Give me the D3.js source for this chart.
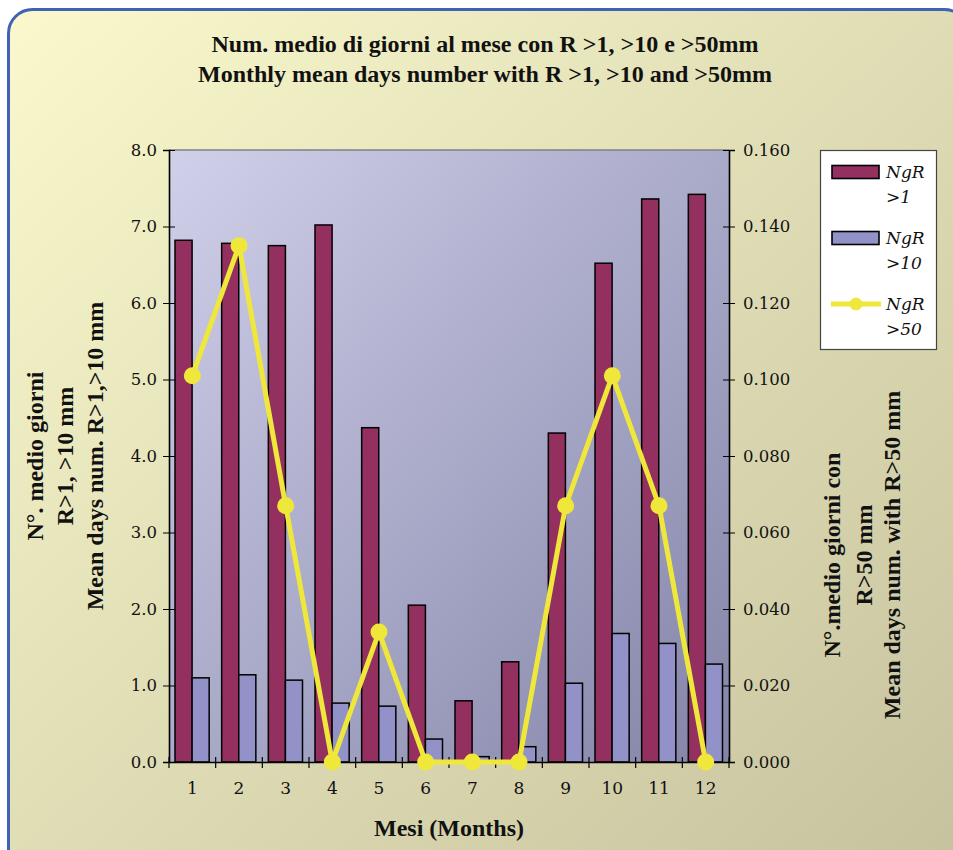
<!DOCTYPE html>
<html><head><meta charset="utf-8">
<script src="https://cdn.jsdelivr.net/npm/d3@7"></script>
<style>body{margin:0;background:#fff}svg{display:block}</style>
</head><body>
<svg id="c" width="953" height="850"></svg>
<script>
const months = [1,2,3,4,5,6,7,8,9,10,11,12];
const ngr1  = [6.82,6.78,6.75,7.02,4.37,2.05,0.80,1.31,4.30,6.52,7.36,7.42];
const ngr10 = [1.10,1.14,1.07,0.77,0.73,0.30,0.07,0.20,1.03,1.68,1.55,1.28];
const ngr50 = [0.101,0.135,0.067,0,0.034,0,0,0,0.067,0.101,0.067,0];
const leftTicks = [0,1,2,3,4,5,6,7,8];
const rightTicks = [0,0.02,0.04,0.06,0.08,0.10,0.12,0.14,0.16];
const seriesNames = ["NgR >1","NgR >10","NgR >50"];
const titleLines = ["Num. medio di giorni al mese con R >1, >10 e >50mm","Monthly mean days number with R >1, >10 and >50mm"];
const leftTitle = ["N°. medio giorni","R>1, >10 mm","Mean days num. R>1,>10 mm"];
const rightTitle = ["N°.medio giorni con","R>50 mm","Mean days num. with R>50 mm"];
const xTitle = "Mesi (Months)";

const svg = d3.select("#c");
const defs = svg.append("defs");
const pg = defs.append("linearGradient").attr("id","panelG").attr("x1","0").attr("y1","0").attr("x2","1").attr("y2","1");
pg.append("stop").attr("offset","0").attr("stop-color","#faf8cc");
pg.append("stop").attr("offset","1").attr("stop-color","#c4c19d");
const ag = defs.append("linearGradient").attr("id","plotG").attr("x1","0").attr("y1","0").attr("x2","1").attr("y2","1");
ag.append("stop").attr("offset","0").attr("stop-color","#d0d0ea");
ag.append("stop").attr("offset","1").attr("stop-color","#8484a8");

svg.append("rect").attr("x",8.5).attr("y",9.5).attr("width",960).attr("height",880).attr("rx",24)
  .attr("fill","url(#panelG)").attr("stroke","#3f62b5").attr("stroke-width",3);

const L=169, R=729, T=150, B=762;
const x = d3.scaleBand().domain(months).range([L,R]).padding(0);
const x1 = d3.scaleBand().domain([0,1]).range([6, x.bandwidth()-6.5]).padding(0);
const yL = d3.scaleLinear().domain([0,8]).range([B,T]);
const yR = d3.scaleLinear().domain([0,0.16]).range([B,T]);

svg.append("rect").attr("x",L).attr("y",T).attr("width",R-L).attr("height",B-T).attr("fill","url(#plotG)");
svg.append("line").attr("x1",L).attr("x2",R).attr("y1",T).attr("y2",T).attr("stroke","#808080").attr("stroke-width",1.5);

const serif = "'DejaVu Serif', serif";
const cols = ["#94305f","#9292c8"];
[ngr1,ngr10].forEach((arr,si)=>{
  svg.append("g").selectAll("rect").data(arr).join("rect")
    .attr("x",(d,i)=>x(months[i])+x1(si)).attr("width",x1.bandwidth())
    .attr("y",d=>yL(d)).attr("height",d=>B-yL(d))
    .attr("fill",cols[si]).attr("stroke","#000").attr("stroke-width",1.5);
});

// left axis
const gl = svg.append("g").attr("transform",`translate(${L},0)`)
  .call(d3.axisLeft(yL).tickValues(leftTicks).tickFormat(d3.format(".1f")).tickSize(6).tickPadding(6));
gl.selectAll(".tick line").attr("x1",6).attr("x2",-6);
gl.select(".domain").attr("stroke-width",1.6);
gl.selectAll("text").attr("font-family",serif).attr("font-size",16.5).attr("fill","#111");
// right axis
const gr = svg.append("g").attr("transform",`translate(${R},0)`)
  .call(d3.axisRight(yR).tickValues(rightTicks).tickFormat(d3.format(".3f")).tickSize(6).tickPadding(8));
gr.selectAll(".tick line").attr("x1",-6).attr("x2",6);
gr.select(".domain").attr("stroke-width",1.6);
gr.selectAll("text").attr("font-family",serif).attr("font-size",16.5).attr("fill","#111");
// bottom axis
const gb = svg.append("g").attr("transform",`translate(0,${B})`)
  .call(d3.axisBottom(x).tickSize(0).tickPadding(20));
gb.select(".domain").attr("stroke","#000").attr("stroke-width",1.6);
gb.selectAll("text").attr("font-family",serif).attr("font-size",17).attr("fill","#111");
const bounds = months.map(m=>x(m)).concat([R]);
svg.append("g").selectAll("line").data(bounds).join("line")
  .attr("x1",d=>d).attr("x2",d=>d).attr("y1",B-5).attr("y2",B+6).attr("stroke","#000").attr("stroke-width",1.2);

// line series
const line = d3.line().x((d,i)=>x(months[i])+x.bandwidth()/2).y(d=>yR(d));
svg.append("path").datum(ngr50).attr("d",line).attr("fill","none").attr("stroke","#efe83a").attr("stroke-width",5).attr("stroke-linejoin","round");
svg.append("g").selectAll("circle").data(ngr50).join("circle")
  .attr("cx",(d,i)=>x(months[i])+x.bandwidth()/2).attr("cy",d=>yR(d)).attr("r",8.5).attr("fill","#efe83a");

// titles
const tfont = "'Liberation Serif', serif";
function title(t, transform, size){
  return svg.append("text").attr("transform",transform).attr("text-anchor","middle")
    .attr("font-family",tfont).attr("font-weight","bold").attr("font-size",size).attr("fill","#111").text(t);
}
title(titleLines[0],"translate(485,52)",24);
title(titleLines[1],"translate(485,82)",24);
const leftX=[43,73,103];
leftTitle.forEach((t,i)=>title(t,`translate(${leftX[i]},456) rotate(-90)`,24));
const rightX=[840,872,900];
rightTitle.forEach((t,i)=>title(t,`translate(${rightX[i]},555) rotate(-90)`,24));
title(xTitle,"translate(449,836)",24);

// legend
const lg = svg.append("g");
lg.append("rect").attr("x",820.5).attr("y",150.5).attr("width",116).attr("height",199).attr("fill","#fff").attr("stroke","#444").attr("stroke-width",1.2);
const ly=[172,238,304];
seriesNames.forEach((n,i)=>{
  const [a,b] = n.split(" ");
  if(i<2){
    lg.append("rect").attr("x",832).attr("y",ly[i]-6.5).attr("width",47).attr("height",13).attr("fill",cols[i]).attr("stroke","#000").attr("stroke-width",1.6);
  } else {
    lg.append("line").attr("x1",831).attr("x2",881).attr("y1",ly[i]).attr("y2",ly[i]).attr("stroke","#efe83a").attr("stroke-width",5);
    lg.append("circle").attr("cx",856).attr("cy",ly[i]).attr("r",6.5).attr("fill","#efe83a");
  }
  lg.append("text").attr("x",886).attr("y",ly[i]+6).attr("font-family",serif).attr("font-style","italic").attr("font-size",17).attr("fill","#111").text(a);
  lg.append("text").attr("x",886).attr("y",ly[i]+31).attr("font-family",serif).attr("font-style","italic").attr("font-size",17).attr("fill","#111").text(b);
});
</script>
</body></html>
